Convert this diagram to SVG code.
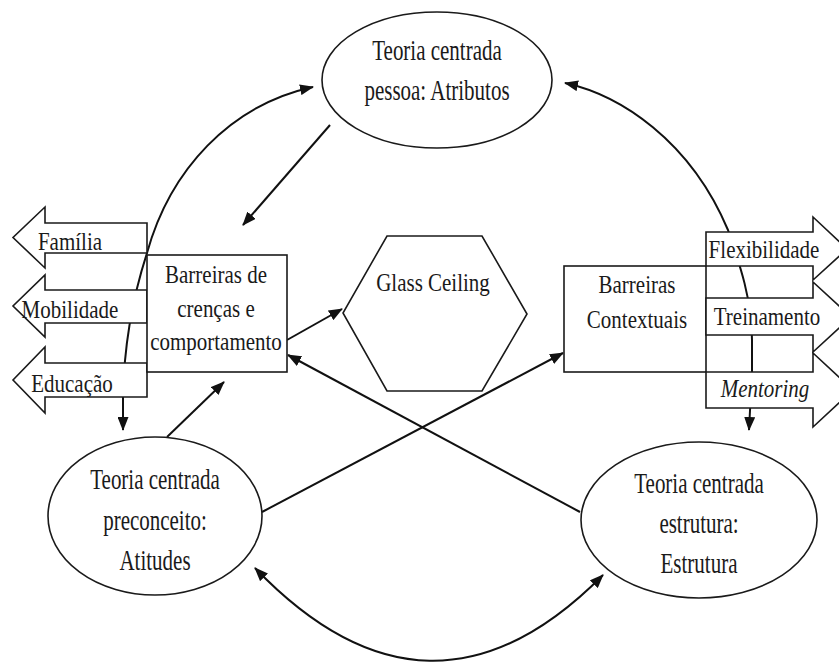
<svg xmlns="http://www.w3.org/2000/svg" width="839" height="662" viewBox="0 0 839 662">
<style>
  .shape { fill: #fff; stroke: #1a1a1a; stroke-width: 1.6; }
  .conn { fill: none; stroke: #111; stroke-width: 2; }
  text { font-family: "Liberation Serif", "Times New Roman", serif; font-size: 21px; fill: #1a1a1a; text-anchor: middle; }
  .it { font-style: italic; }
</style>
<defs>
  <marker id="ah" viewBox="0 0 14 11" refX="13" refY="5.5" markerWidth="14" markerHeight="11" markerUnits="userSpaceOnUse" orient="auto-start-reverse">
    <path d="M0,0 L14,5.5 L0,11 z" fill="#111"/>
  </marker>
</defs>
<rect width="839" height="662" fill="#fff"/>

<g id="connectors">
  <path class="conn" d="M313,87 C230,105 170,170 147,253 C135,290 124,340 123,398 L123,430" marker-start="url(#ah)" marker-end="url(#ah)"/>
  <path class="conn" d="M565,83 C620,95 690,140 728,230 C740,265 752,300 752,340 L752,372 L749,430" marker-start="url(#ah)" marker-end="url(#ah)"/>
  <path class="conn" d="M330,125 L243,225" marker-end="url(#ah)"/>
  <path class="conn" d="M287,340 L342,309" marker-end="url(#ah)"/>
  <path class="conn" d="M580,512 L288,355" marker-end="url(#ah)"/>
  <path class="conn" d="M262,512 L563,353" marker-end="url(#ah)"/>
  <path class="conn" d="M167,437 L224,382" marker-end="url(#ah)"/>
  <path class="conn" d="M255,568 Q430,750 603,575" marker-start="url(#ah)" marker-end="url(#ah)"/>
</g>

<g id="arrow-familia">
  <polygon class="shape" points="147,223 45,223 45,207 13,237.5 45,268 45,253 147,253"/>
  <text transform="translate(70,250) scale(1,1.2)">Família</text>
</g>
<g id="arrow-mobilidade">
  <polygon class="shape" points="147,290 45,290 45,275 13,306 45,337 45,323 147,323"/>
  <text transform="translate(70,318) scale(1,1.2)">Mobilidade</text>
</g>
<g id="arrow-educacao">
  <polygon class="shape" points="147,363 45,363 45,347 13,380 45,413 45,397 147,397"/>
  <text transform="translate(72,392) scale(1,1.2)">Educação</text>
</g>

<g id="barreiras-crencas">
  <rect class="shape" x="147" y="255" width="140" height="117"/>
  <text transform="translate(216,283) scale(1,1.15)">Barreiras de</text>
  <text transform="translate(216,317) scale(1,1.15)">crenças e</text>
  <text transform="translate(216,350) scale(1,1.15)">comportamento</text>
</g>

<g id="glass-ceiling">
  <polygon class="shape" points="387,236 482,236 527,314 482,391 387,391 343,313"/>
  <text transform="translate(433,291) scale(1,1.22)">Glass Ceiling</text>
</g>

<g id="barreiras-contextuais">
  <rect class="shape" x="564" y="266" width="142" height="106"/>
  <text transform="translate(637,293) scale(1,1.2)">Barreiras</text>
  <text transform="translate(637,328) scale(1,1.2)">Contextuais</text>
</g>

<g id="arrow-flexibilidade">
  <polygon class="shape" points="706,232 813,232 813,217 847,249 813,280 813,266 706,266"/>
  <text transform="translate(764,258) scale(1,1.2)">Flexibilidade</text>
</g>
<g id="arrow-treinamento">
  <polygon class="shape" points="706,298 813,298 813,282 851,317 813,352 813,335 706,335"/>
  <text transform="translate(767,325) scale(1,1.2)">Treinamento</text>
</g>
<g id="arrow-mentoring">
  <polygon class="shape" points="706,372 813,372 813,353 853,390 813,427 813,408 706,408"/>
  <text class="it" transform="translate(765,397) scale(1,1.2)">Mentoring</text>
</g>

<g id="teoria-pessoa">
  <ellipse class="shape" cx="437" cy="80" rx="115" ry="68"/>
  <text transform="translate(437,60) scale(1,1.42)">Teoria centrada</text>
  <text transform="translate(437,100) scale(1,1.42)">pessoa: Atributos</text>
</g>

<g id="teoria-preconceito">
  <ellipse class="shape" cx="155" cy="516" rx="107" ry="79"/>
  <text transform="translate(155,489) scale(1,1.42)">Teoria centrada</text>
  <text transform="translate(155,530) scale(1,1.42)">preconceito:</text>
  <text transform="translate(155,570) scale(1,1.42)">Atitudes</text>
</g>

<g id="teoria-estrutura">
  <ellipse class="shape" cx="699" cy="520" rx="118" ry="78"/>
  <text transform="translate(699,493) scale(1,1.42)">Teoria centrada</text>
  <text transform="translate(699,533) scale(1,1.42)">estrutura:</text>
  <text transform="translate(699,573) scale(1,1.42)">Estrutura</text>
</g>
</svg>
